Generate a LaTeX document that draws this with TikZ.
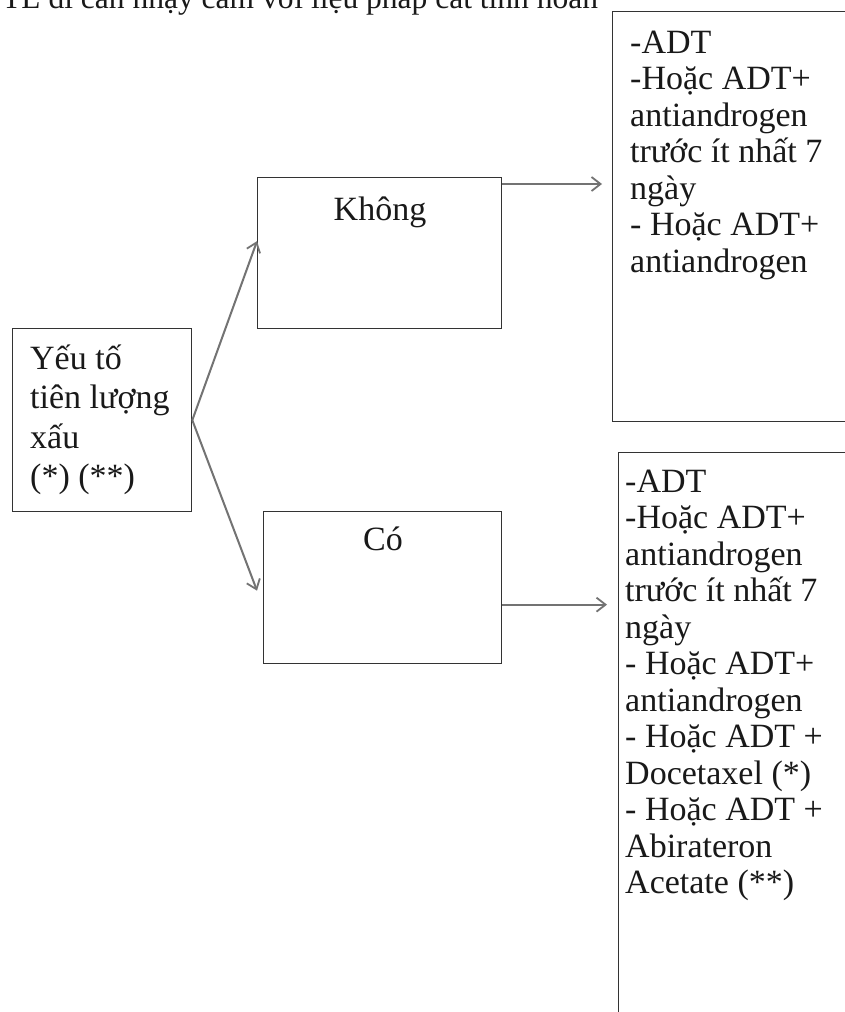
\documentclass[tikz,border=0pt]{standalone}
\usepackage{fontspec}
\setmainfont{Liberation Serif}
\usetikzlibrary{arrows.meta,calc}
\newcommand{\bigfont}{\fontsize{34}{36.5}\selectfont}
\newcommand{\yeufont}{\fontsize{34}{39.5}\selectfont}
\newcommand{\titlefont}{\fontsize{31.5}{34}\selectfont}
\tikzset{
  box/.style={draw=black!80, line width=1.3pt, rectangle, inner sep=0pt, anchor=north west},
  txt/.style={inner sep=0pt, align=left, anchor=north west, text=black!90, font=\bigfont},
  lbl/.style={inner sep=0pt, anchor=base, text=black!90, font=\bigfont},
  conn/.style={draw=black!55, line width=2pt, -{Straight Barb[length=9pt,width=14pt,line width=1.8pt]}},
}
\begin{document}
\begin{tikzpicture}[x=1pt,y=-1pt]
\useasboundingbox (0,0) rectangle (845,1012);
\fill[white] (0,0) rectangle (845,1012);
% title (cut off at top, as in the reference)
\node[lbl, anchor=base west, font=\titlefont] (title) at (2,8) {TL di căn nhạy cảm với liệu pháp cắt tinh hoàn};
% boxes
\node[box, minimum width=179pt, minimum height=183pt] (yeu) at (12,328) {};
\node[box, minimum width=244pt, minimum height=151pt] (khong) at (257,177) {};
\node[box, minimum width=238pt, minimum height=152pt] (co) at (263,511) {};
\node[box, minimum width=260pt, minimum height=410pt] (tr) at (612,11) {};
\node[box, minimum width=260pt, minimum height=580pt] (br) at (618,452) {};
% texts
\node[txt, font=\yeufont] (yeut) at (30,341.3) {\strut Yếu tố\\tiên lượng\\xấu\\(*) (**)};
\node[lbl] (khongt) at (380,220) {Không};
\node[lbl] (cot) at (383,550) {Có};
\node[txt] (trt) at (630,27.5) {\strut -ADT\\-Hoặc ADT+\\antiandrogen\\trước ít nhất 7\\ngày\\- Hoặc ADT+\\antiandrogen};
\node[txt] (brt) at (625,466.5) {\strut -ADT\\-Hoặc ADT+\\antiandrogen\\trước ít nhất 7\\ngày\\- Hoặc ADT+\\antiandrogen\\- Hoặc ADT +\\Docetaxel (*)\\- Hoặc ADT +\\Abirateron\\Acetate (**)};
% connector end points
\coordinate (k1) at ([yshift=-7pt]khong.north east);
\coordinate (k2) at ([xshift=-10pt]tr.west |- k1);
\coordinate (c1) at ([yshift=-17pt]co.east);
\coordinate (c2) at ([xshift=-11pt]br.west |- c1);
% connectors
\draw[conn] (yeu.east) -- ([yshift=12pt]khong.west);
\draw[conn] (yeu.east) -- ([xshift=-6pt,yshift=-3pt]co.west);
\draw[conn] (k1) -- (k2);
\draw[conn] (c1) -- (c2);
\end{tikzpicture}
\end{document}
